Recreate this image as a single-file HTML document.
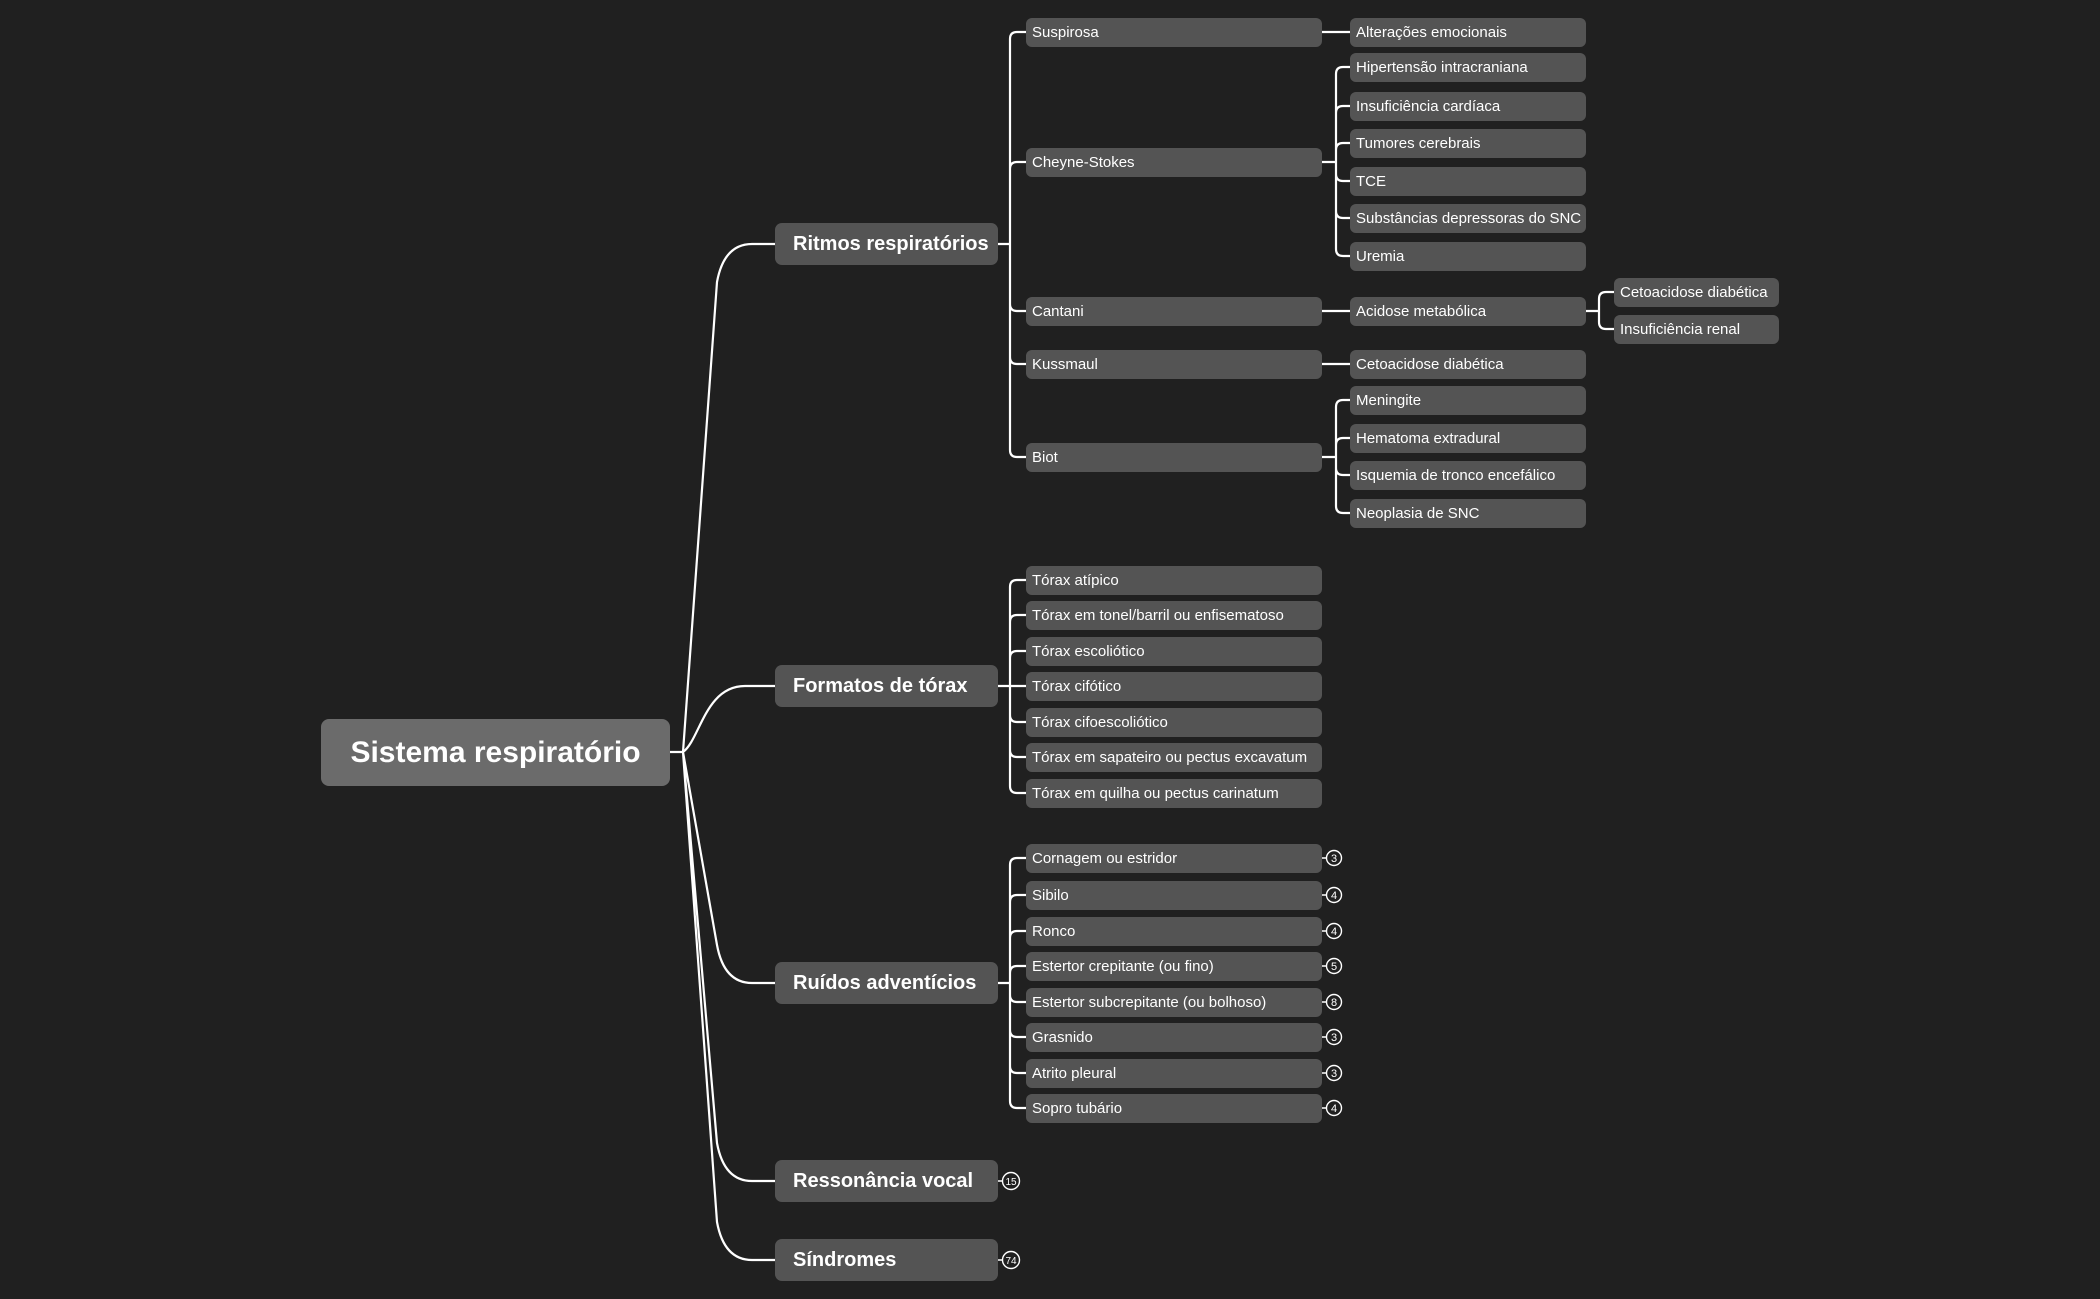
<!DOCTYPE html>
<html><head><meta charset="utf-8">
<style>
html,body{margin:0;padding:0;background:#202020;width:2100px;height:1299px;overflow:hidden}
body{position:relative;font-family:"Liberation Sans",sans-serif;color:#fff}
.n{position:absolute;background:#545454;border-radius:7px;box-sizing:border-box;display:flex;align-items:center;white-space:nowrap}
.l2{font-size:15px;padding-left:6px;height:29px;border-radius:6px}
.l1{font-size:20px;font-weight:bold;padding-left:18px;height:42px;border-radius:7px}
.root{background:#6b6b6b;font-size:30px;font-weight:bold;justify-content:center;border-radius:8px;height:67px}
svg{position:absolute;left:0;top:0}
</style></head><body>
<svg id="s" width="2100" height="1299"></svg>
<div id="c"></div>
<script>
var svg=document.getElementById('s'),C=document.getElementById('c'),P='';
function node(x,y,w,cls,t){var d=document.createElement('div');d.className='n '+cls;d.style.left=x+'px';d.style.top=y+'px';d.style.width=w+'px';d.textContent=t;C.appendChild(d);}
function spine(px,py,xs,cx,ys){var r=7;ys.forEach(function(cy){
 if(Math.abs(cy-py)<2){P+='M'+px+' '+py+'H'+cx;return;}
 var s=cy>py?1:-1;P+='M'+px+' '+py+'H'+xs+'V'+(cy-s*r)+'Q'+xs+' '+cy+' '+(xs+r)+' '+cy+'H'+cx;});}
var badges=[];
node(321,719,349,'root','Sistema respiratório');
var L1=[['Ritmos respiratórios',244],['Formatos de tórax',686],['Ruídos adventícios',983],['Ressonância vocal',1181],['Síndromes',1260]];
L1.forEach(function(a){node(775,a[1]-21,223,'l1',a[0]);var y=a[1];var s=y>752?1:-1;
 if(Math.abs(y-752)<100){P+='M670 752H683C700 740 705 '+y+' 745 '+y+'H775';}
 else P+='M670 752H683L717 '+(y-s*38)+'Q724 '+y+' 752 '+y+'H775';});
function l2(x,w,t,cy){node(x,cy-14.5,w,'l2',t);}
var r1=[['Suspirosa',32],['Cheyne-Stokes',162],['Cantani',311],['Kussmaul',364],['Biot',457]];
r1.forEach(function(a){l2(1026,296,a[0],a[1]);});spine(998,244,1010,1026,r1.map(function(a){return a[1]}));
function l3(t,cy){l2(1350,236,t,cy);}
l3('Alterações emocionais',32);P+='M1322 32H1350';
var ch=[['Hipertensão intracraniana',67],['Insuficiência cardíaca',106],['Tumores cerebrais',143],['TCE',181],['Substâncias depressoras do SNC',218],['Uremia',256]];
ch.forEach(function(a){l3(a[0],a[1]);});spine(1322,162,1336,1350,ch.map(function(a){return a[1]}));
l3('Acidose metabólica',311);P+='M1322 311H1350';
l2(1614,165,'Cetoacidose diabética',292);l2(1614,165,'Insuficiência renal',329);spine(1586,311,1599,1614,[292,329]);
l3('Cetoacidose diabética',364);P+='M1322 364H1350';
var bi=[['Meningite',400],['Hematoma extradural',438],['Isquemia de tronco encefálico',475],['Neoplasia de SNC',513]];
bi.forEach(function(a){l3(a[0],a[1]);});spine(1322,457,1336,1350,bi.map(function(a){return a[1]}));
var ft=[['Tórax atípico',580],['Tórax em tonel/barril ou enfisematoso',615],['Tórax escoliótico',651],['Tórax cifótico',686],['Tórax cifoescoliótico',722],['Tórax em sapateiro ou pectus excavatum',757],['Tórax em quilha ou pectus carinatum',793]];
ft.forEach(function(a){l2(1026,296,a[0],a[1]);});spine(998,686,1010,1026,ft.map(function(a){return a[1]}));
var ru=[['Cornagem ou estridor',858,3],['Sibilo',895,4],['Ronco',931,4],['Estertor crepitante (ou fino)',966,5],['Estertor subcrepitante (ou bolhoso)',1002,8],['Grasnido',1037,3],['Atrito pleural',1073,3],['Sopro tubário',1108,4]];
ru.forEach(function(a){l2(1026,296,a[0],a[1]);badges.push([1334,a[1],a[2],7.5,1322]);});spine(998,983,1010,1026,ru.map(function(a){return a[1]}));
badges.push([1011,1181,15,8.5,998]);badges.push([1011,1260,74,8.5,998]);
var out='<path d="'+P+'" fill="none" stroke="#fff" stroke-width="2.2" stroke-linejoin="round"/>';
badges.forEach(function(b){out+='<line x1="'+b[4]+'" y1="'+b[1]+'" x2="'+(b[0]-b[3])+'" y2="'+b[1]+'" stroke="#fff" stroke-width="1.5"/>';
 out+='<circle cx="'+b[0]+'" cy="'+b[1]+'" r="'+b[3]+'" fill="#202020" stroke="#fff" stroke-width="1.4"/>';
 out+='<text x="'+b[0]+'" y="'+(b[1]+4)+'" font-size="'+(b[2]>9?10:11)+'" fill="#fff" text-anchor="middle" font-family="Liberation Sans,sans-serif">'+b[2]+'</text>';});
svg.innerHTML=out;
</script>
</body></html>
